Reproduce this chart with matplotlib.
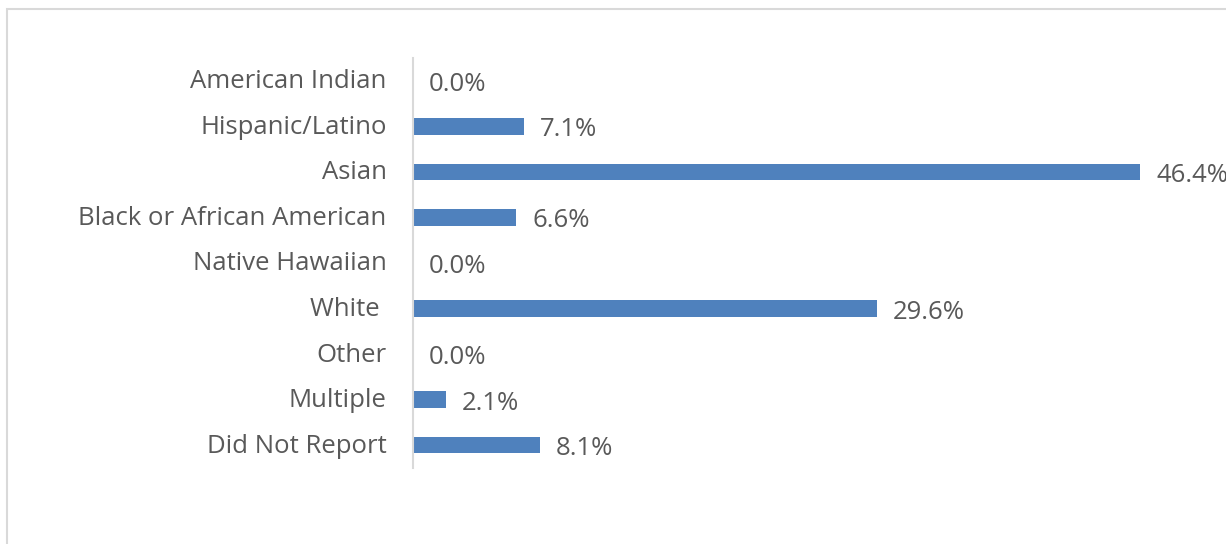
import matplotlib.pyplot as plt
from matplotlib.patches import Rectangle
from matplotlib.transforms import ScaledTranslation

categories = ['American Indian', 'Hispanic/Latino', 'Asian', 'Black or African American',
              'Native Hawaiian', 'White ', 'Other', 'Multiple', 'Did Not Report']
values = [0.0, 7.1, 46.4, 6.6, 0.0, 29.6, 0.0, 2.1, 8.1]

bar_color = '#4F81BD'
text_color = '#595959'
W, H = 1226, 544


def main():
    plt.rcParams['font.family'] = ['Open Sans', 'DejaVu Sans']
    fig = plt.figure(figsize=(W / 100, H / 100), dpi=100)

    # chart area border (runs past right and bottom edges)
    fig.patches.append(Rectangle((7 / W, -0.1), 1.2, 1 - 9 / H + 0.1,
                                 transform=fig.transFigure, fill=False,
                                 edgecolor='#D9D9D9', linewidth=1.5))

    ax = fig.add_axes([413 / W, 76 / H, 783.5 / W, 410 / H])
    y = list(range(len(categories)))
    ax.barh(y, values, height=0.36, color=bar_color)
    ax.set_ylim(len(categories) - 0.5, -0.5)
    ax.set_xlim(0, 50)

    for yi, v in zip(y, values):
        ax.annotate(f'{v:.1f}%', (v, yi), xytext=(11.5, -2.5), textcoords='offset points',
                    va='center', ha='left', fontsize=18.5, color=text_color,
                    annotation_clip=False)

    ax.set_yticks(y)
    ax.set_yticklabels(categories, fontsize=18.5, color=text_color)
    ax.tick_params(axis='y', length=0, pad=19)
    # nudge category labels up a little
    up = ScaledTranslation(0, 1.5 / 72, fig.dpi_scale_trans)
    for lbl in ax.get_yticklabels():
        lbl.set_transform(lbl.get_transform() + up)
    ax.set_xticks([])
    for s in ['top', 'right', 'bottom']:
        ax.spines[s].set_visible(False)
    ax.spines['left'].set_color('#D9D9D9')
    ax.spines['left'].set_linewidth(1.5)

    fig.savefig('out.png', dpi=100)


if __name__ == "__main__":
    main()
